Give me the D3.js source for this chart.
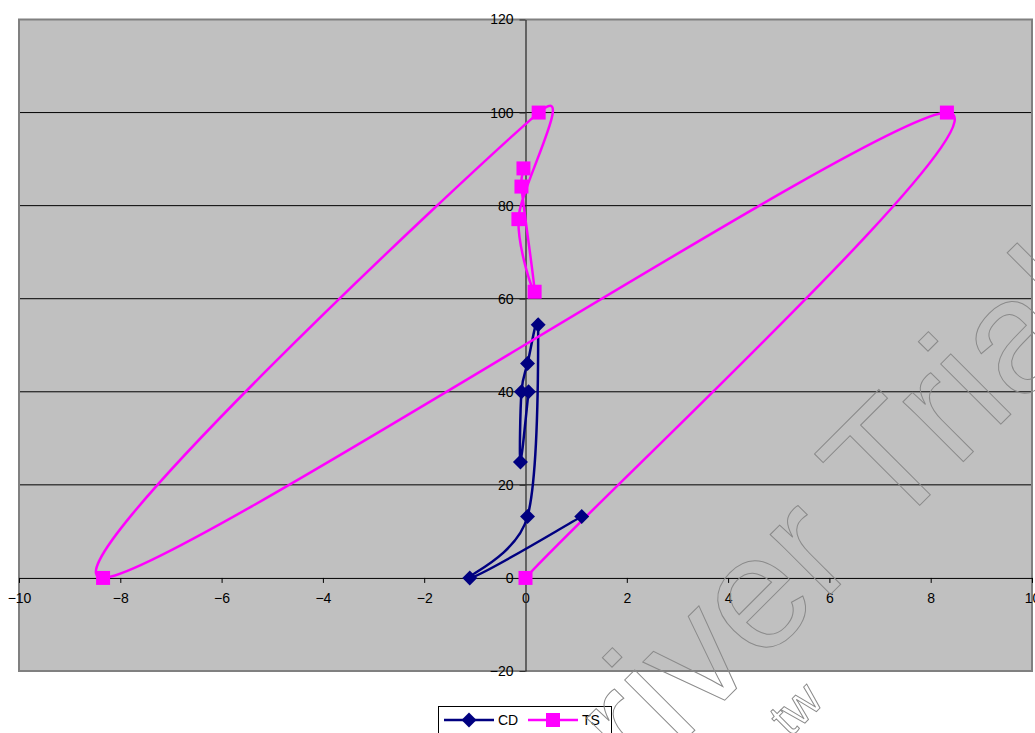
<!DOCTYPE html>
<html>
<head>
<meta charset="utf-8">
<script src="https://cdn.jsdelivr.net/npm/d3@7"></script>
<style>
  html, body { margin: 0; padding: 0; background: #ffffff; }
  svg { display: block; }
  text { font-family: "Liberation Sans", Arial, sans-serif; }
</style>
</head>
<body>
<svg id="chart" width="1035" height="733"></svg>
<script>
// CD series
const cdX = [1.11, -1.10, 0.04, 0.25, 0.04, -0.08, -0.10, 0.06];
const cdY = [13.2, 0.0, 13.2, 54.4, 46.1, 40.0, 24.9, 40.0];

// TS series
const tsX = [0.00, 8.32, -8.34, 0.26, -0.14, 0.18, -0.08, -0.04];
const tsY = [0.0, 100.0, 0.0, 100.0, 77.1, 61.5, 84.1, 88.0];

// Axis ticks
const xTicks = [-10, -8, -6, -4, -2, 0, 2, 4, 6, 8, 10];
const yTicks = [-20, 0, 20, 40, 60, 80, 100, 120];
const gridValues = [20, 40, 60, 80, 100];

const seriesNames = ["CD", "TS"];
const seriesColors = ["#000080", "#FF00FF"];

// Smoothed-line curve: cubic Bezier through each point with tangents of
// 1/6 of the neighbour chord, each handle kept within half its segment.
class SmoothCurve {
  constructor(context) { this._context = context; }
  areaStart() { this._line = 0; }
  areaEnd() { this._line = NaN; }
  lineStart() { this._pts = []; }
  point(px, py) { this._pts.push([+px, +py]); }
  lineEnd() {
    const p = this._pts, n = p.length, c = this._context;
    if (!n) return;
    c.moveTo(p[0][0], p[0][1]);
    if (n === 1) return;
    for (let i = 0; i < n - 1; i++) {
      const P1 = p[i], P2 = p[i + 1];
      const P0 = i > 0 ? p[i - 1] : P1;
      const P3 = i + 2 < n ? p[i + 2] : P2;
      const seg = Math.hypot(P2[0] - P1[0], P2[1] - P1[1]);
      const t1 = [P2[0] - P0[0], P2[1] - P0[1]];
      const t2 = [P3[0] - P1[0], P3[1] - P1[1]];
      const l1 = Math.hypot(t1[0], t1[1]), l2 = Math.hypot(t2[0], t2[1]);
      const f1 = l1 / 6 > seg / 2 ? (seg / 2) / l1 : 1 / 6;
      const f2 = l2 / 6 > seg / 2 ? (seg / 2) / l2 : 1 / 6;
      c.bezierCurveTo(
        P1[0] + f1 * t1[0], P1[1] + f1 * t1[1],
        P2[0] - f2 * t2[0], P2[1] - f2 * t2[1],
        P2[0], P2[1]);
    }
  }
}
const curveSmooth = context => new SmoothCurve(context);

const svg = d3.select("#chart");

const x = d3.scaleLinear().domain([-10, 10]).range([19, 1032]);
const y = d3.scaleLinear().domain([-20, 120]).range([671, 19.5]);

// Plot area
svg.append("rect")
  .attr("x", x(-10)).attr("y", y(120))
  .attr("width", x(10) - x(-10)).attr("height", y(-20) - y(120))
  .attr("fill", "#C0C0C0");

// Horizontal gridlines
svg.append("g").selectAll("line").data(gridValues).join("line")
  .attr("x1", x(-10)).attr("x2", x(10))
  .attr("y1", d => y(d)).attr("y2", d => y(d))
  .attr("stroke", "#000").attr("stroke-width", 1);

// Plot area border
svg.append("rect")
  .attr("x", x(-10)).attr("y", y(120))
  .attr("width", x(10) - x(-10)).attr("height", y(-20) - y(120))
  .attr("fill", "none").attr("stroke", "#808080").attr("stroke-width", 2);

// X axis crossing at y = 0
const xAxis = svg.append("g")
  .attr("transform", `translate(0,${y(0)})`)
  .call(d3.axisBottom(x).tickValues(xTicks).tickSize(5).tickSizeOuter(0).tickPadding(10));
xAxis.select(".domain").attr("stroke", "#000").attr("stroke-width", 1);
xAxis.selectAll(".tick line").attr("stroke", "#000");
xAxis.selectAll(".tick text").attr("font-size", 14).attr("fill", "#000")
  .style("font-family", "'Liberation Sans', Arial, sans-serif");

// Y axis crossing at x = 0
const yAxis = svg.append("g")
  .attr("transform", `translate(${x(0)},0)`)
  .call(d3.axisLeft(y).tickValues(yTicks).tickSize(6).tickSizeOuter(0).tickPadding(6));
yAxis.select(".domain").attr("stroke", "#303030").attr("stroke-width", 1.3);
yAxis.selectAll(".tick line").attr("stroke", "#303030");
yAxis.selectAll(".tick text").attr("font-size", 14).attr("fill", "#000")
  .style("font-family", "'Liberation Sans', Arial, sans-serif");

// Smoothed lines
const toPoints = (xs, ys) => xs.map((v, i) => ({ x: v, y: ys[i] }));
const cdPts = toPoints(cdX, cdY);
const tsPts = toPoints(tsX, tsY);

const line = d3.line()
  .x(d => x(d.x)).y(d => y(d.y))
  .curve(curveSmooth);

svg.append("path").datum(cdPts)
  .attr("d", line).attr("fill", "none")
  .attr("stroke", seriesColors[0]).attr("stroke-width", 2.5);

svg.append("path").datum(tsPts)
  .attr("d", line).attr("fill", "none")
  .attr("stroke", seriesColors[1]).attr("stroke-width", 2.5);

// Markers
const diamond = d3.symbol().type(d3.symbolSquare).size(112);
const square = d3.symbol().type(d3.symbolSquare).size(196);

svg.append("g").selectAll("path")
  .data(cdPts)
  .join("path")
  .attr("d", diamond)
  .attr("transform", d => `translate(${x(d.x)},${y(d.y)}) rotate(45)`)
  .attr("fill", seriesColors[0]);

svg.append("g").selectAll("path")
  .data(tsPts)
  .join("path")
  .attr("d", square)
  .attr("transform", d => `translate(${x(d.x)},${y(d.y)})`)
  .attr("fill", seriesColors[1]);

// Legend
const legend = svg.append("g");
legend.append("rect")
  .attr("x", 438.5).attr("y", 706.5).attr("width", 173).attr("height", 30)
  .attr("fill", "#fff").attr("stroke", "#000").attr("stroke-width", 1);

const legendX = [444, 528];
seriesNames.forEach((name, i) => {
  const lx = legendX[i];
  legend.append("line")
    .attr("x1", lx).attr("x2", lx + 50).attr("y1", 720).attr("y2", 720)
    .attr("stroke", seriesColors[i]).attr("stroke-width", 2.5);
  legend.append("path")
    .attr("d", i === 0 ? diamond : square)
    .attr("transform", `translate(${lx + 25},720)` + (i === 0 ? " rotate(45)" : ""))
    .attr("fill", seriesColors[i]);
  legend.append("text")
    .attr("x", lx + 54).attr("y", 725)
    .attr("font-size", 14).attr("fill", "#000")
    .text(name);
});

// Outlined trial stamp across the chart
const stamp = svg.append("g")
  .attr("fill", "none").attr("stroke", "#8a8a8a").attr("stroke-width", 1);
stamp.append("text")
  .attr("transform", "translate(557,868) rotate(-45)")
  .attr("font-size", 161)
  .text("Driver Trial");
stamp.append("text")
  .attr("transform", "translate(790,738) rotate(-45)")
  .attr("font-size", 50)
  .text("tw");
</script>
</body>
</html>
